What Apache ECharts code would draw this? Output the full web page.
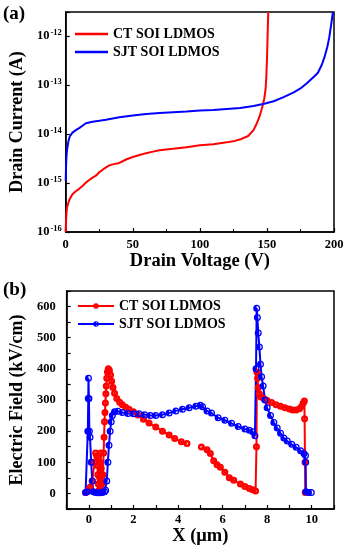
<!DOCTYPE html>
<html>
<head>
<meta charset="utf-8">
<script src="https://cdn.jsdelivr.net/npm/echarts@6/dist/echarts.min.js"></script>
<style>html,body{margin:0;padding:0;background:#fff;}#c{width:347px;height:550px;}</style>
</head>
<body>
<div id="c"></div>
<script>
// ---------- (a) Drain current vs drain voltage ----------
const ctVoltage = [0, 0.2, 0.5, 1, 2, 3, 5, 7.5, 10, 12.5, 15, 17.5, 20, 22.5, 25, 27.5, 30, 32.5, 35, 40, 45, 50, 55, 60, 65, 70, 80, 90, 100, 110, 120, 126, 131, 136, 140, 142.5, 144.5, 146, 147, 148, 149, 149.6, 150, 150.4, 150.8, 151];
const ctCurrent = [1.0e-16, 1.6e-16, 2.4e-16, 3.2e-16, 4.0e-16, 4.7e-16, 5.9e-16, 6.8e-16, 7.6e-16, 8.7e-16, 1.02e-15, 1.15e-15, 1.29e-15, 1.41e-15, 1.66e-15, 1.86e-15, 2.09e-15, 2.29e-15, 2.40e-15, 2.57e-15, 3.02e-15, 3.39e-15, 3.72e-15, 4.07e-15, 4.37e-15, 4.68e-15, 5.01e-15, 5.37e-15, 5.89e-15, 6.17e-15, 6.76e-15, 7.24e-15, 7.94e-15, 9.12e-15, 1.20e-14, 1.66e-14, 2.29e-14, 3.16e-14, 3.98e-14, 5.25e-14, 8.32e-14, 1.58e-13, 3.16e-13, 7.94e-13, 2.0e-12, 3.1e-12];
const sjtVoltage = [0, 0.3, 0.7, 1, 2, 3, 5, 7.5, 10, 12.5, 15, 20, 25, 30, 40, 50, 60, 70, 80, 90, 100, 110, 120, 130, 140, 148, 155, 162, 170, 175, 180, 185, 188, 191, 193, 195, 196.5, 197.7, 198.7, 199.2];
const sjtCurrent = [1.1e-15, 2.5e-15, 4.0e-15, 4.8e-15, 7.1e-15, 8.9e-15, 1.07e-14, 1.2e-14, 1.32e-14, 1.48e-14, 1.66e-14, 1.78e-14, 1.86e-14, 1.95e-14, 2.19e-14, 2.40e-14, 2.57e-14, 2.69e-14, 2.79e-14, 2.88e-14, 3.02e-14, 3.09e-14, 3.24e-14, 3.39e-14, 3.72e-14, 4.17e-14, 4.68e-14, 5.62e-14, 7.08e-14, 8.51e-14, 1.10e-13, 1.48e-13, 1.78e-13, 2.63e-13, 3.8e-13, 6.0e-13, 9.5e-13, 1.58e-12, 2.5e-12, 3.1e-12];
const voltageTicks = [0, 50, 100, 150, 200];

// ---------- (b) Electric field vs X ----------
const ctX = [-0.15, -0.05, 0.05, 0.15, 0.25, 0.3, 0.35, 0.38, 0.4, 0.42, 0.45, 0.48, 0.5, 0.53, 0.55, 0.58, 0.6, 0.63, 0.66, 0.68, 0.7, 0.72, 0.74, 0.76, 0.78, 0.8, 0.83, 0.87, 0.92, 0.97, 1.02, 1.08, 1.15, 1.25, 1.38, 1.5, 1.65, 1.8, 2.0, 2.2, 2.45, 2.7, 3.0, 3.3, 3.6, 3.85, 4.15, 4.4, 4.7, 5.05, 5.3, 5.45, 5.6, 5.75, 5.9, 6.1, 6.3, 6.5, 6.8, 7.0, 7.2, 7.35, 7.48, 7.52, 7.54, 7.57, 7.6, 7.65, 7.72, 7.85, 8.0, 8.2, 8.4, 8.6, 8.8, 9.0, 9.15, 9.3, 9.45, 9.55, 9.62, 9.67, 9.68, 9.7, 9.71];
const ctField = [3, 8, 20, 40, 100, 130, 120, 90, 60, 30, 10, 50, 100, 130, 80, 30, 5, 60, 130, 180, 230, 260, 290, 320, 345, 370, 390, 400, 395, 380, 360, 340, 322, 305, 293, 285, 277, 270, 262, 252, 238, 226, 213, 200, 188, 176, 166, 160, null, 149, 140, 128, 105, 92, 84, 68, 50, 42, 30, 22, 16, 12, 8, 150, 390, 370, 340, 320, 310, 305, 298, 292, 285, 280, 275, 271, 268, 268, 272, 280, 290, 297, 240, 100, 3];
const sjtX = [-0.15, -0.08, -0.05, -0.03, -0.02, 0.0, 0.02, 0.05, 0.1, 0.15, 0.2, 0.3, 0.4, 0.5, 0.6, 0.7, 0.75, 0.8, 0.85, 0.9, 0.95, 1.0, 1.05, 1.15, 1.3, 1.5, 1.75, 2.0, 2.25, 2.5, 2.75, 3.0, 3.3, 3.6, 3.9, 4.2, 4.5, 4.8, 5.0, 5.1, 5.3, 5.5, 5.8, 6.1, 6.4, 6.7, 7.0, 7.2, 7.35, 7.45, 7.5, 7.53, 7.56, 7.6, 7.65, 7.7, 7.75, 7.82, 7.9, 8.0, 8.15, 8.3, 8.45, 8.6, 8.75, 8.9, 9.1, 9.3, 9.5, 9.65, 9.72, 9.73, 9.74, 9.85, 9.98];
const sjtField = [3, 5, 200, 305, 370, 305, 200, 180, 100, 40, 5, 3, 2, 2, 3, 5, 10, 40, 100, 155, 200, 230, 250, 262, 264, 260, 257, 256, 256, 253, 250, 250, 253, 258, 265, 270, 275, 280, 283, 278, 265, 258, 243, 235, 225, 215, 207, 203, 198, 185, 400, 595, 565, 515, 470, 415, 375, 345, 300, 275, 250, 228, 210, 193, 178, 168, 158, 148, 137, 128, 122, 100, 5, 3, 3];
const fieldTicks = [0, 100, 200, 300, 400, 500, 600];
const xTicks = [0, 2, 4, 6, 8, 10];

const seriesNames = ['CT SOI LDMOS', 'SJT SOI LDMOS'];

const FONT = '"Liberation Serif", "Times New Roman", serif';
const zip = (a, b) => a.map((v, i) => [v, b[i]]);

const labelStyle = { color: '#000', fontFamily: FONT, fontWeight: 'bold', fontSize: 12.5 };
const nameStyleX = { color: '#000', fontFamily: FONT, fontWeight: 'bold', fontSize: 18.5 };
const nameStyleY = { color: '#000', fontFamily: FONT, fontWeight: 'bold', fontSize: 18 };
const lineAx = { show: true, onZero: false, lineStyle: { color: '#000', width: 1.5 } };
const tickIn = { show: true, inside: true, length: 4, lineStyle: { color: '#000', width: 1.2 } };
const legendText = { color: '#000', fontFamily: FONT, fontWeight: 'bold', fontSize: 14 };

const chart = echarts.init(document.getElementById('c'), null, { renderer: 'canvas' });

const halfCircle = 'path://M5,0 A5,5 0 1,1 5,10 A5,5 0 1,1 5,0 Z M5,1.8 L5,8.2 A3.2,3.2 0 0,0 5,1.8 Z';
const dotCircle = 'path://M5,0 A5,5 0 1,1 5,10 A5,5 0 1,1 5,0 Z M5,3.4 A1.6,1.6 0 1,0 5,6.6 A1.6,1.6 0 1,0 5,3.4 Z';

chart.setOption({
  animation: false,
  backgroundColor: '#fff',
  graphic: [
    { type: 'text', left: 3, top: 5, style: { text: '(a)', font: 'bold 19px ' + FONT, fill: '#000' } },
    { type: 'text', left: 3, top: 281, style: { text: '(b)', font: 'bold 19px ' + FONT, fill: '#000' } }
  ],
  grid: [
    { left: 62, top: 12, width: 272, height: 220, show: true, borderColor: '#000', borderWidth: 1.5, backgroundColor: 'transparent' },
    { left: 62, top: 291, width: 272, height: 218, show: true, borderColor: '#000', borderWidth: 1.5, backgroundColor: 'transparent' }
  ],
  legend: [
    {
      data: seriesNames.map(n => ({ name: n, icon: 'rect' })),
      orient: 'vertical', left: 70, top: 22, itemWidth: 33, itemHeight: 2.5, itemGap: 4,
      textStyle: legendText, selectedMode: false
    },
    {
      data: seriesNames.map(n => n + ' (E)'), orient: 'vertical', left: 72, top: 294, itemWidth: 36, itemHeight: 7, itemGap: 4,
      formatter: n => n.replace(' (E)', ''),
      textStyle: legendText, selectedMode: false
    }
  ],
  xAxis: [
    {
      gridIndex: 0, type: 'value', min: 0, max: 200, interval: 50,
      axisLine: lineAx, axisTick: tickIn,
      minorTick: { show: true, splitNumber: 2, length: 3, lineStyle: { color: '#000', width: 1 } },
      splitLine: { show: false },
      axisLabel: Object.assign({ margin: 6, formatter: v => voltageTicks.includes(v) ? String(v) : '' }, labelStyle),
      name: 'Drain Voltage (V)', nameLocation: 'middle', nameGap: 19, nameTextStyle: nameStyleX
    },
    {
      gridIndex: 1, type: 'value', min: -1, max: 11, interval: 1,
      axisLine: lineAx, axisTick: tickIn, splitLine: { show: false },
      axisLabel: Object.assign({ margin: 4, formatter: v => xTicks.includes(v) ? String(v) : '' }, labelStyle),
      name: 'X (μm)', nameLocation: 'middle', nameGap: 17, nameTextStyle: nameStyleX
    }
  ],
  yAxis: [
    {
      gridIndex: 0, type: 'log', logBase: 10, min: 1e-16, max: 3.1e-12,
      axisLine: lineAx, axisTick: tickIn, splitLine: { show: false }, minorTick: { show: false },
      axisLabel: Object.assign({
        margin: 4,
        formatter: v => {
          const l = Math.log10(v), e = Math.round(l);
          if (Math.abs(l - e) > 0.01) return '';
          return '{b|10}{s|' + e + '}';
        },
        rich: {
          b: { fontFamily: FONT, fontWeight: 'bold', fontSize: 12.5, color: '#000' },
          s: { fontFamily: FONT, fontWeight: 'bold', fontSize: 8.5, color: '#000', verticalAlign: 'bottom', padding: [0, 0, 7, 1] }
        }
      }, labelStyle),
      name: 'Drain Current (A)', nameLocation: 'middle', nameGap: 33, nameTextStyle: nameStyleY
    },
    {
      gridIndex: 1, type: 'value', min: -50, max: 650, interval: 50,
      axisLine: lineAx, axisTick: tickIn, splitLine: { show: false },
      axisLabel: Object.assign({ margin: 11, formatter: v => fieldTicks.includes(v) ? String(v) : '' }, labelStyle),
      name: 'Electric Field (kV/cm)', nameLocation: 'middle', nameGap: 28, nameTextStyle: nameStyleY
    }
  ],
  series: [
    {
      name: seriesNames[0], type: 'line', xAxisIndex: 0, yAxisIndex: 0, symbol: 'none',
      color: '#ff0000', lineStyle: { width: 2, color: '#ff0000' }, data: zip(ctVoltage, ctCurrent)
    },
    {
      name: seriesNames[1], type: 'line', xAxisIndex: 0, yAxisIndex: 0, symbol: 'none',
      color: '#0000ff', lineStyle: { width: 2, color: '#0000ff' }, data: zip(sjtVoltage, sjtCurrent)
    },
    {
      name: seriesNames[0] + ' (E)', type: 'line', xAxisIndex: 1, yAxisIndex: 1,
      symbol: dotCircle, symbolSize: 7, connectNulls: false,
      color: '#ff0000', itemStyle: { color: '#ff0000' },
      lineStyle: { width: 2, color: '#ff0000' }, data: zip(ctX, ctField)
    },
    {
      name: seriesNames[1] + ' (E)', type: 'line', xAxisIndex: 1, yAxisIndex: 1,
      symbol: halfCircle, symbolSize: 7,
      color: '#0000ff', itemStyle: { color: '#0000ff' },
      lineStyle: { width: 2, color: '#0000ff' }, data: zip(sjtX, sjtField)
    }
  ]
});
</script>
</body>
</html>
